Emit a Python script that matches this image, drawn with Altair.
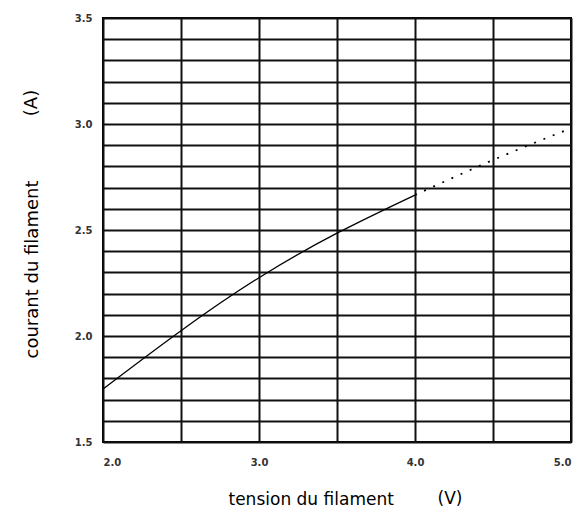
import altair as alt
import pandas as pd

# Curve (tension in V, courant in A)
volts_solid = [2.0, 2.5, 3.0, 3.5, 4.0]
amps_solid = [1.75, 2.025, 2.275, 2.485, 2.665]
volts_dotted = [4.0, 4.5, 5.0]
amps_dotted = [2.665, 2.83, 2.98]

# Grid / tick values
x_grid = [2.0, 2.5, 3.0, 3.5, 4.0, 4.5, 5.0]
y_grid = [1.5, 1.6, 1.7, 1.8, 1.9, 2.0, 2.1, 2.2, 2.3, 2.4, 2.5,
          2.6, 2.7, 2.8, 2.9, 3.0, 3.1, 3.2, 3.3, 3.4, 3.5]

x_title = "tension du filament"
y_title = "courant du filament"
x_unit = ["(V)"]
y_unit = ["(A)"]

solid_df = pd.DataFrame({"V": volts_solid, "A": amps_solid})
dotted_df = pd.DataFrame({"V": volts_dotted, "A": amps_dotted})

x_enc = alt.X(
    "V:Q",
    scale=alt.Scale(domain=[2.0, 5.0], nice=False, zero=False),
    axis=alt.Axis(
        values=x_grid,
        tickCount=len(x_grid),
        labelExpr="datum.value % 1 == 0 ? format(datum.value, '.1f') : ''",
        labelPadding=15,
        labelOverlap=False,
        title=x_title,
        titleX=125,
        titleY=62,
        titleAlign="left",
        titleBaseline="alphabetic",
        titleFontSize=17,
    ),
)
y_enc = alt.Y(
    "A:Q",
    scale=alt.Scale(domain=[1.5, 3.5], nice=False, zero=False),
    axis=alt.Axis(
        values=y_grid,
        tickCount=len(y_grid),
        labelExpr="abs(datum.value * 2 - round(datum.value * 2)) < 0.001 ? format(datum.value, '.1f') : ''",
        labelPadding=11,
        labelOverlap=False,
        title=y_title,
        titleX=-71,
        titleY=251,
        titleAngle=270,
        titleAlign="center",
        titleBaseline="middle",
        titleFontSize=18,
    ),
)

solid = alt.Chart(solid_df).mark_line(
    color="black", strokeWidth=1.3, interpolate="natural"
).encode(x=x_enc, y=y_enc)

dotted = alt.Chart(dotted_df).mark_line(
    color="black", strokeWidth=1.8, strokeDash=[2, 8], interpolate="natural"
).encode(x="V:Q", y="A:Q")

v_unit = alt.Chart(pd.DataFrame({"t": x_unit})).mark_text(
    font="DejaVu Sans", fontSize=17, color="black", align="center", baseline="alphabetic"
).encode(x=alt.value(347), y=alt.value(486), text="t:N")

a_unit = alt.Chart(pd.DataFrame({"t": y_unit})).mark_text(
    font="DejaVu Sans", fontSize=18, color="black", align="center", baseline="middle", angle=270
).encode(x=alt.value(-71), y=alt.value(85), text="t:N")

chart = alt.layer(solid, dotted, v_unit, a_unit).properties(
    width=468,
    height=424,
    background="white",
    autosize=alt.AutoSizeParams(type="none"),
    padding={"left": 103, "top": 18, "right": 10, "bottom": 70},
).configure_view(
    stroke="black", strokeWidth=2
).configure_axis(
    domain=False,
    ticks=False,
    grid=True,
    gridColor="#111111",
    gridWidth=2,
    gridOpacity=1,
    labelFont="DejaVu Sans",
    labelFontSize=10,
    labelFontWeight="bold",
    labelColor="#333333",
    titleFont="DejaVu Sans",
    titleFontWeight="normal",
    titleColor="black",
)

chart.save("out.html", embed_options={"renderer": "svg", "actions": False})
